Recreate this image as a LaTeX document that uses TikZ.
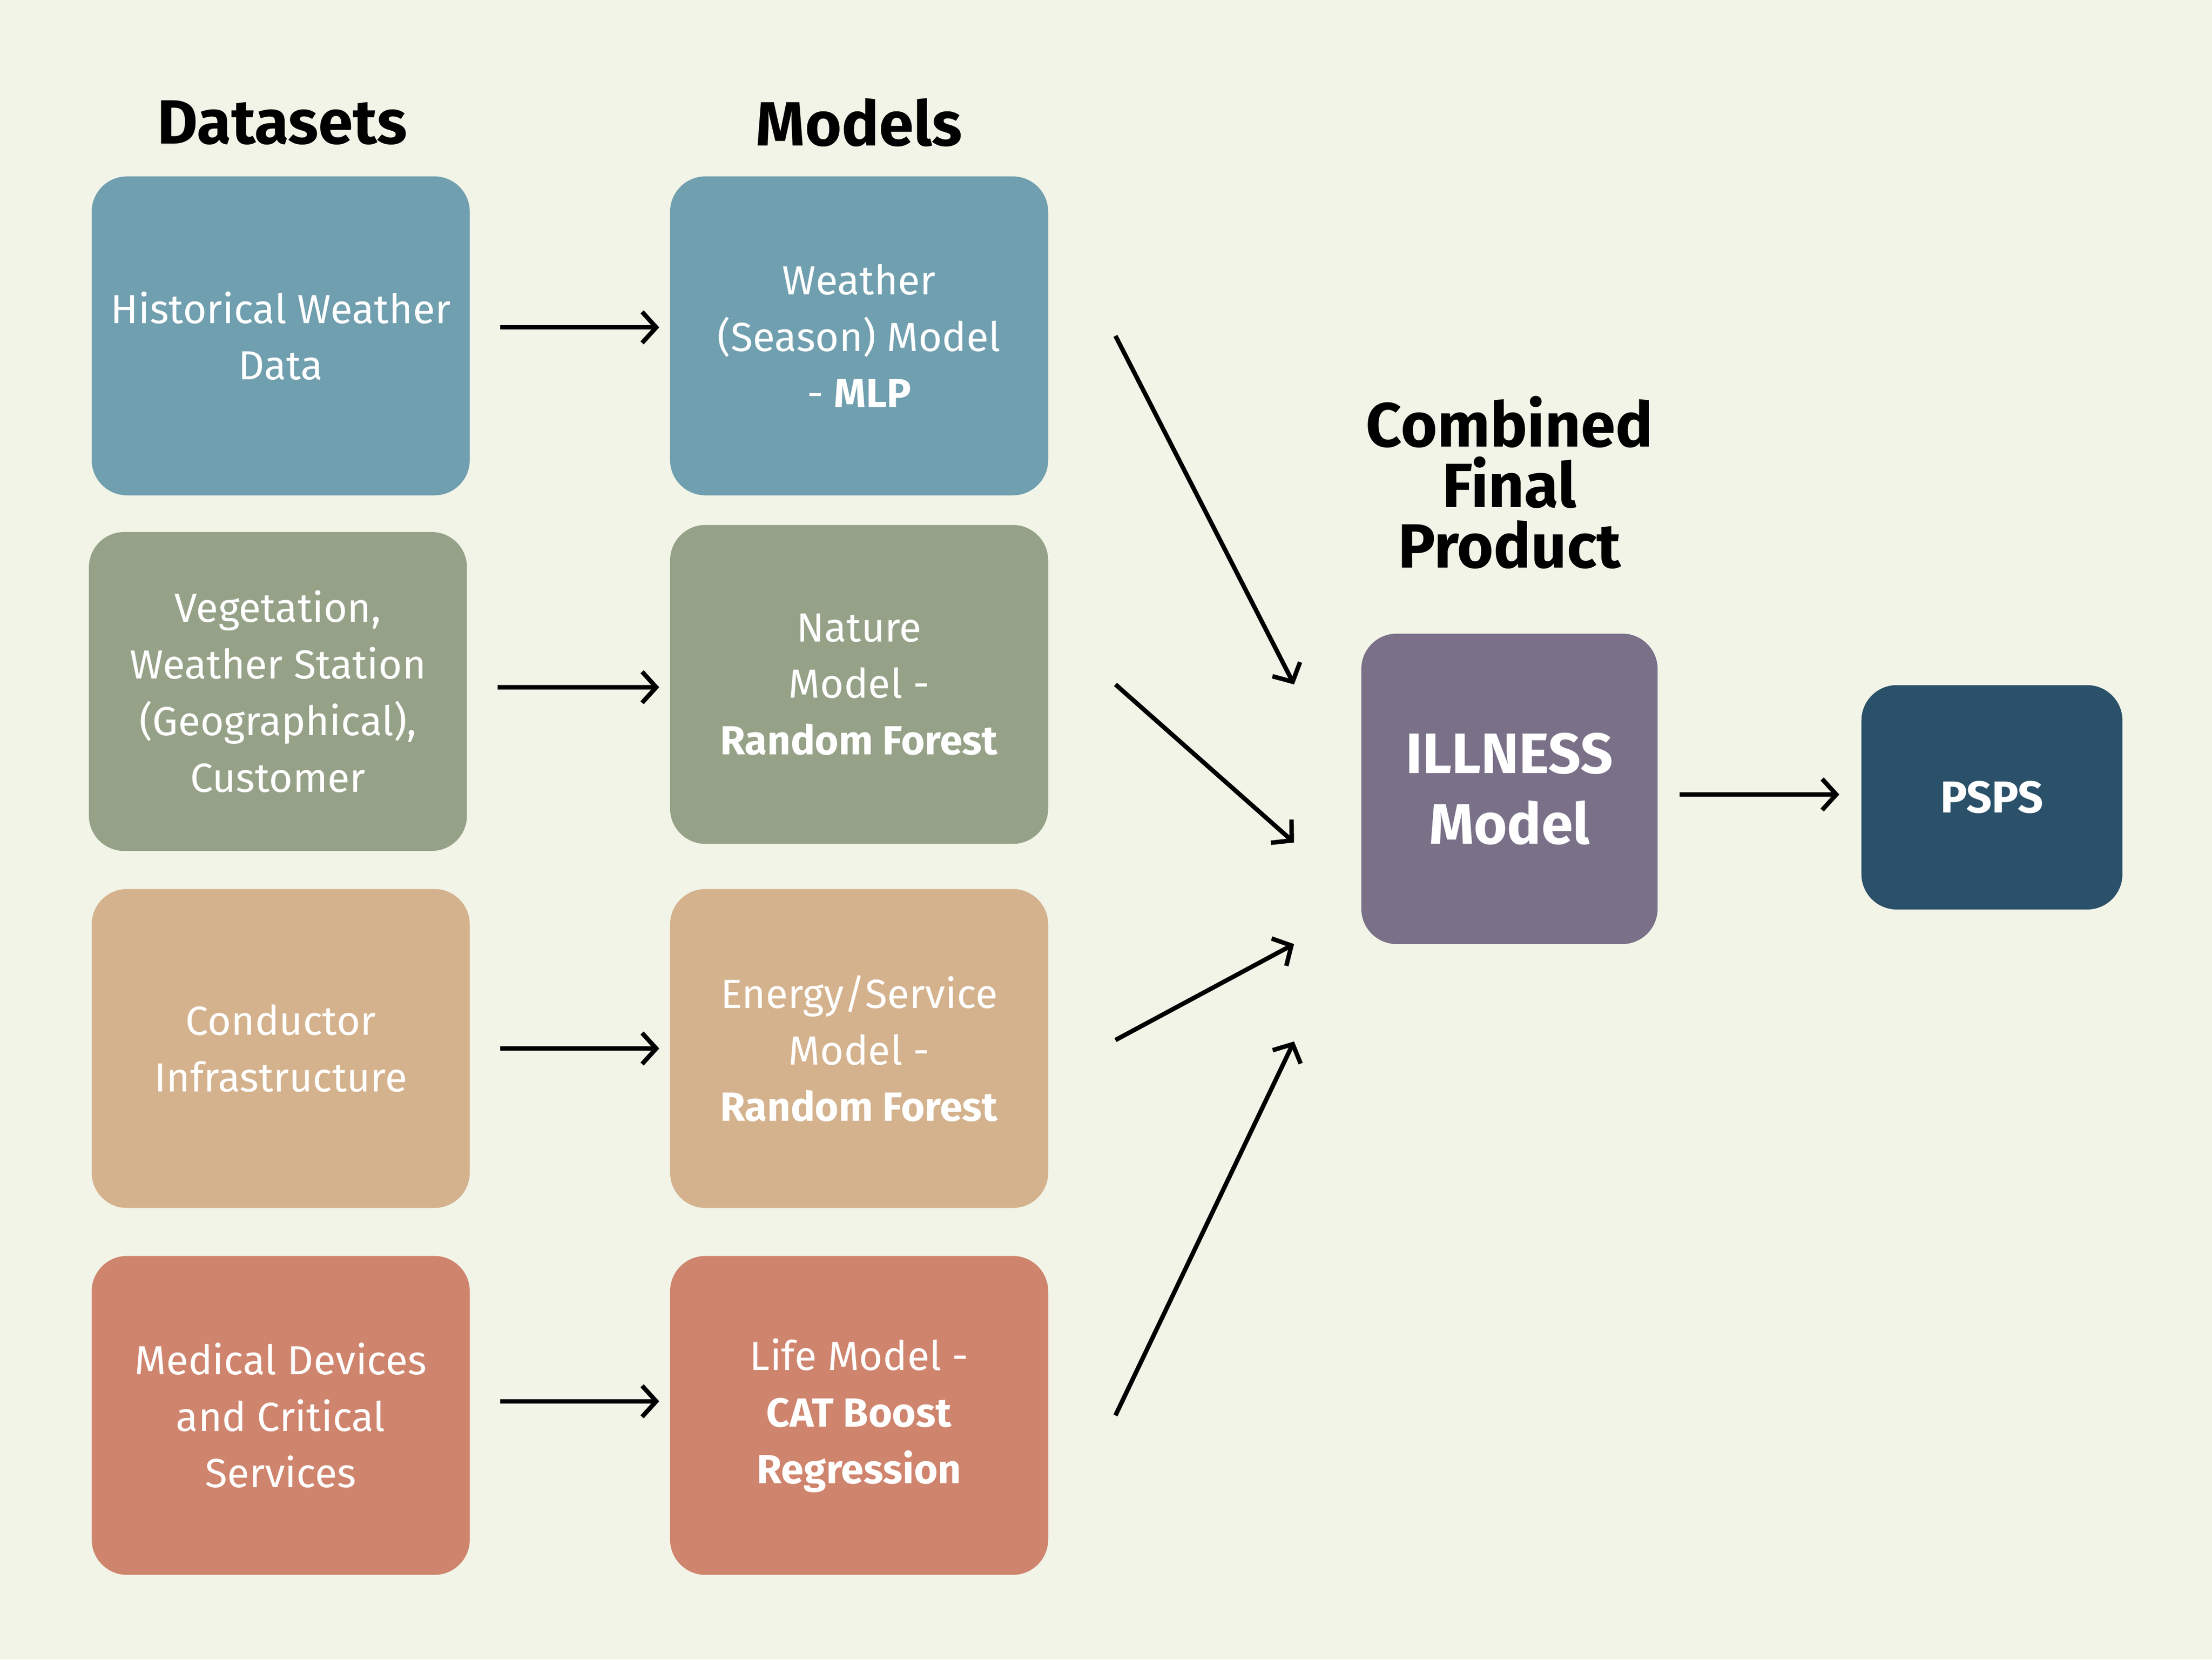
\documentclass[tikz,border=0pt]{standalone}
\usepackage{fontspec}
\setmainfont{Fira Sans}
\usetikzlibrary{arrows.meta}

\definecolor{bgcream}{HTML}{F2F4E8}
\definecolor{weatherblue}{HTML}{709FAF}
\definecolor{naturegreen}{HTML}{96A288}
\definecolor{energytan}{HTML}{D4B28D}
\definecolor{lifesalmon}{HTML}{CF846D}
\definecolor{illpurple}{HTML}{7A7189}
\definecolor{pspsnavy}{HTML}{2A5169}

\tikzset{
    box/.style={rounded corners=0.25cm, fill=#1, text=white, align=center,
        minimum width=2.68cm, minimum height=2.26cm, inner sep=0pt,
        font=\fontsize{8.2}{11.4}\selectfont},
    heading/.style={font=\fontsize{12.6}{12.2}\selectfont\bfseries, align=center},
    flow/.style={line width=0.9pt, -{Straight Barb[length=0.1cm, width=0.22cm]}}
}

\begin{document}
\begin{tikzpicture}[x=0.1mm, y=-0.1mm]
    \fill[bgcream] (0,0) rectangle (1568,1176);
    \useasboundingbox (0,0) rectangle (1568,1176);

    % Column headings
    \node[heading] (dshead) at (200,87) {Datasets};
    \node[heading] (mdhead) at (609,87) {Models};
    \node[heading] (cbhead) at (1070,342) {Combined\\Final\\Product};

    % Datasets column
    \node[box=weatherblue] (d1) at (199,238) {Historical Weather\\Data};
    \node[box=naturegreen] (d2) at (197,490) {Vegetation,\\Weather Station\\(Geographical),\\Customer};
    \node[box=energytan] (d3) at (199,743) {Conductor\\Infrastructure};
    \node[box=lifesalmon] (d4) at (199,1003) {Medical Devices\\and Critical\\Services};

    % Models column
    \node[box=weatherblue] (m1) at (609,238) {Weather\\(Season) Model\\- \textbf{MLP}};
    \node[box=naturegreen] (m2) at (609,485) {Nature\\Model -\\\textbf{Random Forest}};
    \node[box=energytan] (m3) at (609,743) {Energy/Service\\Model -\\\textbf{Random Forest}};
    \node[box=lifesalmon] (m4) at (609,1003) {Life Model -\\\textbf{CAT Boost}\\\textbf{Regression}};

    % Final product
    \node[box=illpurple, minimum width=2.10cm, minimum height=2.20cm,
        font=\fontsize{11.5}{14.2}\selectfont\bfseries] (ill) at (1070,559) {ILLNESS\\Model};
    \node[box=pspsnavy, minimum width=1.85cm, minimum height=1.59cm,
        font=\fontsize{9}{11}\selectfont\bfseries] (psps) at (1412,565) {PSPS};

    % Dataset -> model arrows
    \foreach \i/\ds/\ms in {1/0.06/0.06, 2/0.03/-0.02, 3/0/0, 4/0.1/0.1} {
        \draw[flow, shorten <=0.21cm, shorten >=0.07cm]
            ([yshift=\ds cm]d\i.east) -- ([yshift=\ms cm]m\i.west);
    }

    % Models -> combined model
    \draw[flow] ([xshift=0.47cm]m1.east) -- ([xshift=-0.47cm, yshift=0.74cm]ill.west);
    \draw[flow] ([xshift=0.47cm]m2.east) -- ([xshift=-0.47cm, yshift=-0.38cm]ill.west);
    \draw[flow] ([xshift=0.47cm, yshift=0.06cm]m3.east) -- ([xshift=-0.47cm, yshift=-1.10cm]ill.west);
    \draw[flow] ([xshift=0.47cm]m4.east) -- ([xshift=-0.47cm, yshift=-1.79cm]ill.west);

    % Combined model -> PSPS
    \draw[flow, shorten <=0.15cm, shorten >=0.15cm]
        ([yshift=-0.04cm]ill.east) -- ([yshift=0.02cm]psps.west);
\end{tikzpicture}
\end{document}
